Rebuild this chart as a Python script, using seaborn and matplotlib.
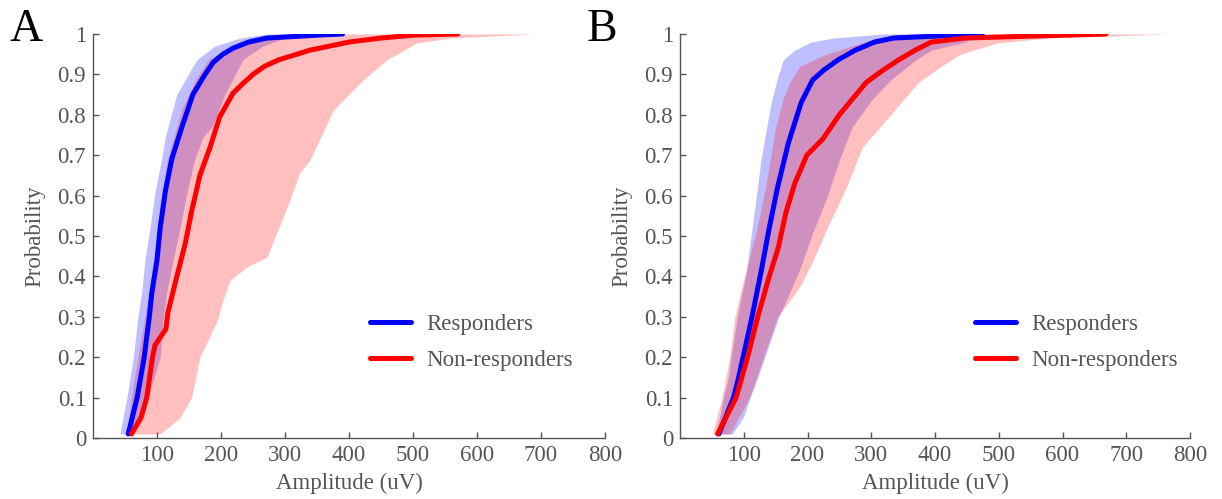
import matplotlib
matplotlib.use("Agg")
import matplotlib.pyplot as plt
import seaborn as sns
import numpy as np

sns.set_theme(style="ticks")
plt.rcParams['font.family'] = ['Liberation Serif', 'DejaVu Serif']

# ---------------- data (Amplitude uV vs cumulative probability) ----------------
series_names = ["Responders", "Non-responders"]
panel_labels = ["A", "B"]
x_ticks = [100, 200, 300, 400, 500, 600, 700, 800]
y_ticks = [0, 0.1, 0.2, 0.3, 0.4, 0.5, 0.6, 0.7, 0.8, 0.9, 1]
y_tick_labels = ["0", "0.1", "0.2", "0.3", "0.4", "0.5", "0.6", "0.7", "0.8", "0.9", "1"]

# Panel A - Responders mean curve
a_resp_p = [0.01, 0.1, 0.2, 0.3, 0.36, 0.44, 0.52, 0.61, 0.69, 0.77, 0.85, 0.90, 0.93, 0.95, 0.965, 0.98, 0.99, 0.997, 1.0]
a_resp_x = [55, 69, 80, 88, 92, 100, 105, 113, 123, 139, 156, 175, 188, 203, 219, 243, 272, 350, 390]
# Panel A - Non-responders mean curve
a_non_p = [0.01, 0.05, 0.1, 0.2, 0.23, 0.27, 0.31, 0.40, 0.48, 0.56, 0.65, 0.72, 0.795, 0.854, 0.88, 0.90, 0.92, 0.936, 0.96, 0.98, 0.99, 0.997, 1.0]
a_non_x = [60, 75, 84, 93, 97, 114, 117, 131, 144, 154, 167, 183, 198, 219, 236, 250, 268, 290, 339, 400, 450, 500, 570]
# Panel A - Responders band
a_resp_band_p = [0.01, 0.1, 0.2, 0.3, 0.36, 0.44, 0.52, 0.61, 0.69, 0.745, 0.77, 0.85, 0.936, 0.97, 0.99, 1.0]
a_resp_band_lo = [42, 53, 63, 70, 76, 81, 89, 97, 107, 113, 117, 131, 162, 190, 230, 272]
a_resp_band_hi = [63, 86, 105, 110, 115, 125, 136, 147, 159, 172, 186, 206, 234, 265, 300, 395]
# Panel A - Non-responders band
a_non_band_p = [0.01, 0.05, 0.1, 0.2, 0.29, 0.34, 0.39, 0.423, 0.448, 0.507, 0.59, 0.656, 0.688, 0.81, 0.886, 0.936, 0.978, 0.99, 1.0]
a_non_band_lo = [53, 56, 60, 70, 80, 85, 90, 93, 95, 100, 106, 113, 116, 138, 160, 180, 225, 260, 300]
a_non_band_hi = [105, 136, 154, 167, 194, 203, 214, 240, 272, 287, 308, 323, 339, 375, 422, 459, 506, 558, 690]

# Panel B - Responders mean curve
b_resp_p = [0.01, 0.1, 0.15, 0.2, 0.3, 0.41, 0.52, 0.62, 0.73, 0.83, 0.886, 0.91, 0.936, 0.96, 0.98, 0.99, 1.0]
b_resp_x = [61, 84, 92, 99, 113, 127, 140, 153, 170, 190, 208, 225, 248, 275, 305, 335, 474]
# Panel B - Non-responders mean curve
b_non_p = [0.01, 0.1, 0.2, 0.3, 0.4, 0.47, 0.557, 0.63, 0.70, 0.74, 0.80, 0.88, 0.91, 0.936, 0.96, 0.98, 0.99, 1.0]
b_non_x = [59, 88, 106, 122, 140, 154, 166, 180, 199, 224, 250, 292, 318, 343, 369, 394, 447, 668]
# Panel B - Responders band
b_resp_band_p = [0.01, 0.05, 0.1, 0.15, 0.2, 0.3, 0.41, 0.507, 0.59, 0.688, 0.77, 0.837, 0.886, 0.936, 0.96, 0.98, 0.99, 1.0]
b_resp_band_lo = [56, 62, 68, 76, 80, 90, 104, 112, 119, 127, 136, 144, 152, 162, 180, 205, 240, 317]
b_resp_band_hi = [82, 99, 110, 122, 133, 155, 186, 208, 229, 250, 270, 301, 330, 370, 394, 447, 460, 474]
# Panel B - Non-responders band
b_non_band_p = [0.01, 0.1, 0.2, 0.3, 0.34, 0.38, 0.44, 0.52, 0.62, 0.72, 0.77, 0.84, 0.88, 0.92, 0.95, 0.978, 0.99, 1.0]
b_non_band_lo = [51, 66, 78, 86, 92, 98, 108, 121, 134, 145, 150, 162, 172, 188, 229, 285, 310, 343]
b_non_band_hi = [78, 109, 131, 153, 172, 190, 209, 231, 261, 286, 314, 352, 374, 410, 440, 498, 576, 767]

panels = [
    dict(resp=(a_resp_x, a_resp_p), non=(a_non_x, a_non_p),
         resp_band=(a_resp_band_p, a_resp_band_lo, a_resp_band_hi),
         non_band=(a_non_band_p, a_non_band_lo, a_non_band_hi)),
    dict(resp=(b_resp_x, b_resp_p), non=(b_non_x, b_non_p),
         resp_band=(b_resp_band_p, b_resp_band_lo, b_resp_band_hi),
         non_band=(b_non_band_p, b_non_band_lo, b_non_band_hi)),
]

# ---------------- style ----------------
BLUE = "#0000ff"
RED = "#ff0000"
GRAY = "#555555"
FS = 16.5

fig = plt.figure(figsize=(12.22, 4.99), dpi=100)
positions = [[93 / 1222, 61 / 499, 512 / 1222, 404 / 499],
             [680 / 1222, 61 / 499, 510 / 1222, 404 / 499]]
legend_anchor = [(0.541, 0.307), (0.578, 0.307)]
letter_x = [10 / 1222, 587 / 1222]

for i, (pdata, pos) in enumerate(zip(panels, positions)):
    ax = fig.add_axes(pos)
    bp, blo, bhi = pdata["resp_band"]
    ax.fill_betweenx(bp, blo, bhi, color=BLUE, alpha=0.25, lw=0)
    rp, rlo, rhi = pdata["non_band"]
    ax.fill_betweenx(rp, rlo, rhi, color=RED, alpha=0.25, lw=0)
    sns.lineplot(x=pdata["resp"][0], y=pdata["resp"][1], sort=False, estimator=None,
                 color=BLUE, lw=3.6, ax=ax, label=series_names[0],
                 solid_joinstyle="round")
    sns.lineplot(x=pdata["non"][0], y=pdata["non"][1], sort=False, estimator=None,
                 color=RED, lw=3.6, ax=ax, label=series_names[1],
                 solid_joinstyle="round")

    ax.set_xlim(0, 800)
    ax.set_ylim(0, 1)
    ax.set_xticks(x_ticks)
    ax.set_yticks(y_ticks)
    ax.set_yticklabels(y_tick_labels)
    sns.despine(ax=ax)
    for s in ("left", "bottom"):
        ax.spines[s].set_color(GRAY)
        ax.spines[s].set_linewidth(1.0)
    ax.tick_params(direction="in", length=4, width=1, colors=GRAY,
                   labelsize=FS, labelcolor=GRAY, pad=5)
    ax.set_xlabel("Amplitude (uV)", fontsize=FS, color=GRAY, labelpad=5)
    ax.set_ylabel("Probability", fontsize=FS, color=GRAY, labelpad=8.5)

    leg = ax.legend(loc="upper left", bbox_to_anchor=legend_anchor[i], frameon=False,
                    fontsize=FS, handlelength=1.8, handletextpad=0.67,
                    labelspacing=0.67, borderpad=0, borderaxespad=0)
    for t in leg.get_texts():
        t.set_color(GRAY)
    for h in leg.get_lines():
        h.set_linewidth(3.6)

    fig.text(letter_x[i], 1 - 41 / 499, panel_labels[i], fontsize=33, color="black",
             ha="left", va="baseline")

fig.savefig("out.png", dpi=100)
